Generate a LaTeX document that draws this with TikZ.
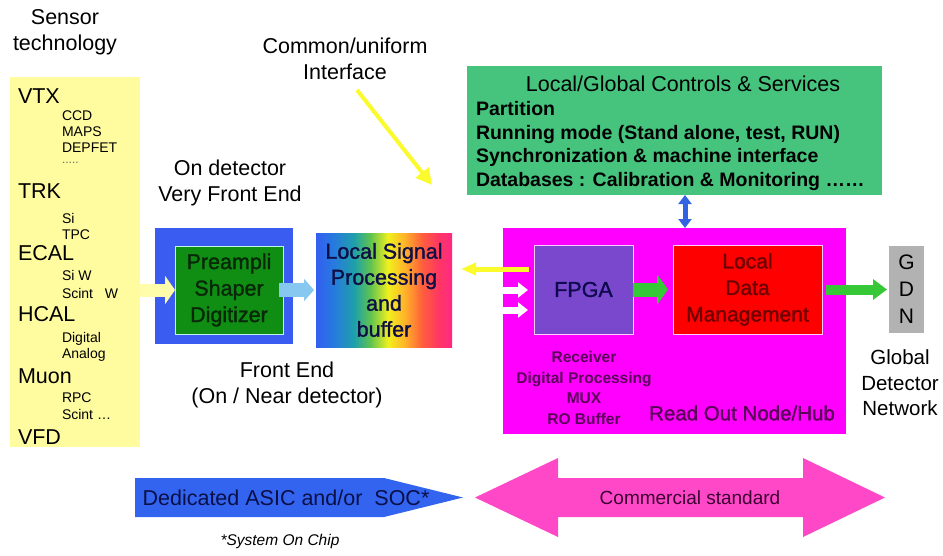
\documentclass[tikz,border=0pt]{standalone}
\usepackage{fontspec}
\setmainfont{Liberation Sans}
\newfontfamily\heavysans[FakeBold=1.4]{Liberation Sans}
\usetikzlibrary{arrows.meta}

% palette
\definecolor{sensoryellow}{RGB}{255,252,160}
\definecolor{feblue}{RGB}{58,92,240}
\definecolor{pregreen}{RGB}{16,142,20}
\definecolor{pretext}{RGB}{8,40,8}
\definecolor{preborder}{RGB}{190,245,235}
\definecolor{lsptext}{RGB}{15,15,70}
\definecolor{ctrlgreen}{RGB}{70,196,125}
\definecolor{hubmagenta}{RGB}{255,0,255}
\definecolor{hubtext}{RGB}{90,0,90}
\definecolor{fpgapurple}{RGB}{122,72,205}
\definecolor{fpgatext}{RGB}{15,10,80}
\definecolor{ldmred}{RGB}{255,0,0}
\definecolor{ldmtext}{RGB}{110,0,0}
\definecolor{innerborder}{RGB}{255,205,255}
\definecolor{gdngrey}{RGB}{178,178,178}
\definecolor{arrowgreen}{RGB}{55,200,55}
\definecolor{skyarrow}{RGB}{135,200,240}
\definecolor{ifaceyellow}{RGB}{250,250,45}
\definecolor{sensorarrow}{RGB}{255,253,170}
\definecolor{linkblue}{RGB}{50,100,225}
\definecolor{asicblue}{RGB}{50,100,240}
\definecolor{asictext}{RGB}{10,15,70}
\definecolor{cspink}{RGB}{255,72,200}
\definecolor{cstext}{RGB}{60,0,50}

% rainbow for the signal processing block (box spans 25bp..75bp)
\definecolor{rb0}{RGB}{50,95,240}
\definecolor{rb1}{RGB}{40,120,225}
\definecolor{rb2}{RGB}{30,160,170}
\definecolor{rb3}{RGB}{95,195,80}
\definecolor{rb4}{RGB}{240,240,30}
\definecolor{rb5}{RGB}{255,180,40}
\definecolor{rb6}{RGB}{255,95,60}
\definecolor{rb7}{RGB}{255,55,100}
\definecolor{rb8}{RGB}{255,40,130}
\pgfdeclarehorizontalshading{lsprainbow}{100bp}{color(0bp)=(rb0); color(25bp)=(rb0);
  color(31bp)=(rb1); color(39bp)=(rb2); color(45bp)=(rb3); color(51.5bp)=(rb4);
  color(57.5bp)=(rb5); color(64bp)=(rb6); color(70bp)=(rb7); color(75bp)=(rb8); color(100bp)=(rb8)}

\newcommand\fbig{\fontsize{21.5}{26}\selectfont}
\newcommand\fsmall{\fontsize{14}{16}\selectfont}
\newcommand\fbold{\fontsize{19.5}{24}\selectfont\bfseries}
\newcommand\fhub{\fontsize{15.5}{20.5}\selectfont\bfseries}
\newcommand\fbottom{\fontsize{19}{22}\selectfont}

\begin{document}
\begin{tikzpicture}[x=1pt,y=-1pt,
  every node/.style={inner sep=0pt, outer sep=0pt},
  bigitem/.style={anchor=base west, font=\fbig},
  smallitem/.style={anchor=base west, font=\fsmall},
  caption/.style={align=center, font=\fbig},
  ctrlline/.style={anchor=base west, font=\fbold},
  blocktext/.style={align=center, font=\heavysans\fontsize{21.5}{26.5}\selectfont},
  fatarrow/.style n args={3}{line width=#1, -{Triangle[length=#2,width=#3]}}]
\useasboundingbox (0,0) rectangle (943,555);

% sensor technology column
\node[caption] (sensorlbl) at (65,32) {Sensor\\technology};
\node[fill=sensoryellow, minimum width=130pt, minimum height=370pt] (sensors) at (75,262) {};
\node[bigitem] (vtx) at (18,103) {VTX};
\node[smallitem] (ccd) at (62,120) {CCD};
\node[smallitem] (maps) at (62,136) {MAPS};
\node[smallitem] (depfet) at (62,152) {DEPFET};
\node[anchor=base west, font=\fontsize{12}{14}\selectfont, text=black!60] (vtxmore) at (62,163) {.....};
\node[bigitem] (trk) at (18,198) {TRK};
\node[smallitem] (si) at (62,223) {Si};
\node[smallitem] (tpc) at (62,239) {TPC};
\node[bigitem] (ecal) at (18,260) {ECAL};
\node[smallitem] (siw) at (62,280) {Si W};
\node[smallitem] (scintw) at (62,298) {Scint\ \ \ W};
\node[bigitem] (hcal) at (18,321) {HCAL};
\node[smallitem] (digital) at (62,342) {Digital};
\node[smallitem] (analog) at (62,358) {Analog};
\node[bigitem] (muon) at (18,383) {Muon};
\node[smallitem] (rpc) at (62,402) {RPC};
\node[smallitem] (scint) at (62,419) {Scint \dots};
\node[bigitem] (vfd) at (18,444) {VFD};

% front end
\node[caption] (vfelbl) at (230,183) {On detector\\Very Front End};
\node[fill=feblue, minimum width=138pt, minimum height=116pt] (fe) at (224,286) {};
\node[fill=pregreen, draw=preborder, line width=1pt, minimum width=108pt, minimum height=88pt] (pre) at (229,290) {};
\node[blocktext, text=pretext] (pretxt) at (pre.center) {Preampli\\Shaper\\Digitizer};
\node[shading=lsprainbow, minimum width=136pt, minimum height=114pt] (lsp) at (384,290) {};
\node[blocktext, font=\heavysans\fontsize{21.5}{26}\selectfont, text=lsptext] (lsptxt) at (lsp.center)
  {Local Signal\\Processing\\and\\buffer};
\node[caption] (felbl) at (287,385) {Front End\\(On / Near detector)};

% common interface
\node[caption] (iface) at (345,59) {Common/uniform\\Interface};
\coordinate (ifstart) at (357,90);
\coordinate (iftip) at (432,185);

% controls and services
\node[fill=ctrlgreen, minimum width=415pt, minimum height=129pt] (ctrl) at (674.5,130.5) {};
\node[font=\fbig] (ctrltitle) at (683,84) {Local/Global Controls \& Services};
\node[ctrlline] (partition) at (476,115) {Partition};
\node[ctrlline] (running) at (476,139) {Running mode (Stand alone, test, RUN)};
\node[ctrlline] (sync) at (476,162) {Synchronization \& machine interface};
\node[ctrlline] (databases) at (476,186) {Databases : Calibration \& Monitoring \dots\dots};

% read out node / hub
\node[fill=hubmagenta, minimum width=343pt, minimum height=206pt] (rohub) at (674.5,331) {};
\node[fill=fpgapurple, draw=innerborder, line width=1pt, minimum width=99pt, minimum height=89pt] (fpga) at (583.5,289.5) {};
\node[font=\heavysans\fbig, text=fpgatext] (fpgatxt) at (fpga.center) {FPGA};
\node[fill=ldmred, draw=innerborder, line width=1pt, minimum width=149pt, minimum height=89pt] (ldm) at (747.5,289.5) {};
\node[blocktext, font=\heavysans\fontsize{21}{26.5}\selectfont, text=ldmtext] (ldmtxt) at (ldm.center)
  {Local\\Data\\Management};
\node[align=center, font=\fhub, text=hubtext] (fpgatasks) at (584,388)
      {Receiver\\Digital Processing\\MUX\\RO Buffer};
\node[font=\heavysans\fontsize{20.5}{24}\selectfont, text=hubtext] (hublbl) at (742,413) {Read Out Node/Hub};

% global detector network
\node[fill=gdngrey, minimum width=35pt, minimum height=87pt, align=center,
      font=\fontsize{21}{27}\selectfont] (gdn) at (906.5,289.5) {G\\D\\N};
\node[align=center, font=\fontsize{20.5}{25.5}\selectfont] (gdnlbl) at (900,383) {Global\\Detector\\Network};

% connectors
\draw[fatarrow={13pt}{10pt}{28pt}, draw=sensorarrow] (sensors.east |- pre.west) -- (pre.west);
\draw[fatarrow={14pt}{10pt}{22pt}, draw=skyarrow] ([xshift=-4pt]pre.east) -- ([xshift=-2pt]lsp.west);
\draw[fatarrow={5pt}{15pt}{12pt}, draw=ifaceyellow] ([xshift=-5pt]fpga.west |- 0,269) -- ([xshift=9pt]lsp.east |- 0,269);
\draw[fatarrow={7pt}{10pt}{15pt}, draw=white] (rohub.west |- 0,290) -- ([xshift=-6pt]fpga.west |- 0,290);
\draw[fatarrow={7pt}{10pt}{15pt}, draw=white] (rohub.west |- 0,310) -- ([xshift=-6pt]fpga.west |- 0,310);
\draw[fatarrow={14pt}{11pt}{30pt}, draw=arrowgreen] (fpga.east) -- ([xshift=-5pt]ldm.west);
\draw[fatarrow={10pt}{14pt}{20pt}, draw=arrowgreen] ([xshift=4pt]ldm.east) -- ([xshift=-2pt]gdn.west);
\draw[line width=5pt, draw=linkblue, {Triangle[length=9pt,width=13pt]}-{Triangle[length=9pt,width=13pt]}]
  ([xshift=10.5pt]ctrl.south) -- ([xshift=10.5pt]rohub.north);
\draw[line width=4pt, draw=ifaceyellow, -{Triangle[length=16pt,width=16pt]}] (ifstart) -- (iftip);

% technology bands
\fill[asicblue] (135,478) -- (384,478) -- (463,497.5) -- (384,517) -- (135,517) -- cycle;
\node[font=\fontsize{21.5}{24}\selectfont, text=asictext] (asic) at (286,497.5) {Dedicated ASIC and/or\ \ SOC*};
\fill[cspink] (475,497.5) -- (558,458) -- (558,478) -- (803,478) -- (803,458) -- (885,497.5)
  -- (803,537) -- (803,517) -- (558,517) -- (558,537) -- cycle;
\node[font=\fbottom, text=cstext] (cs) at (690,497.5) {Commercial standard};
\node[font=\fontsize{15.5}{18}\selectfont\itshape] (soc) at (280,541) {*System On Chip};
\end{tikzpicture}
\end{document}
